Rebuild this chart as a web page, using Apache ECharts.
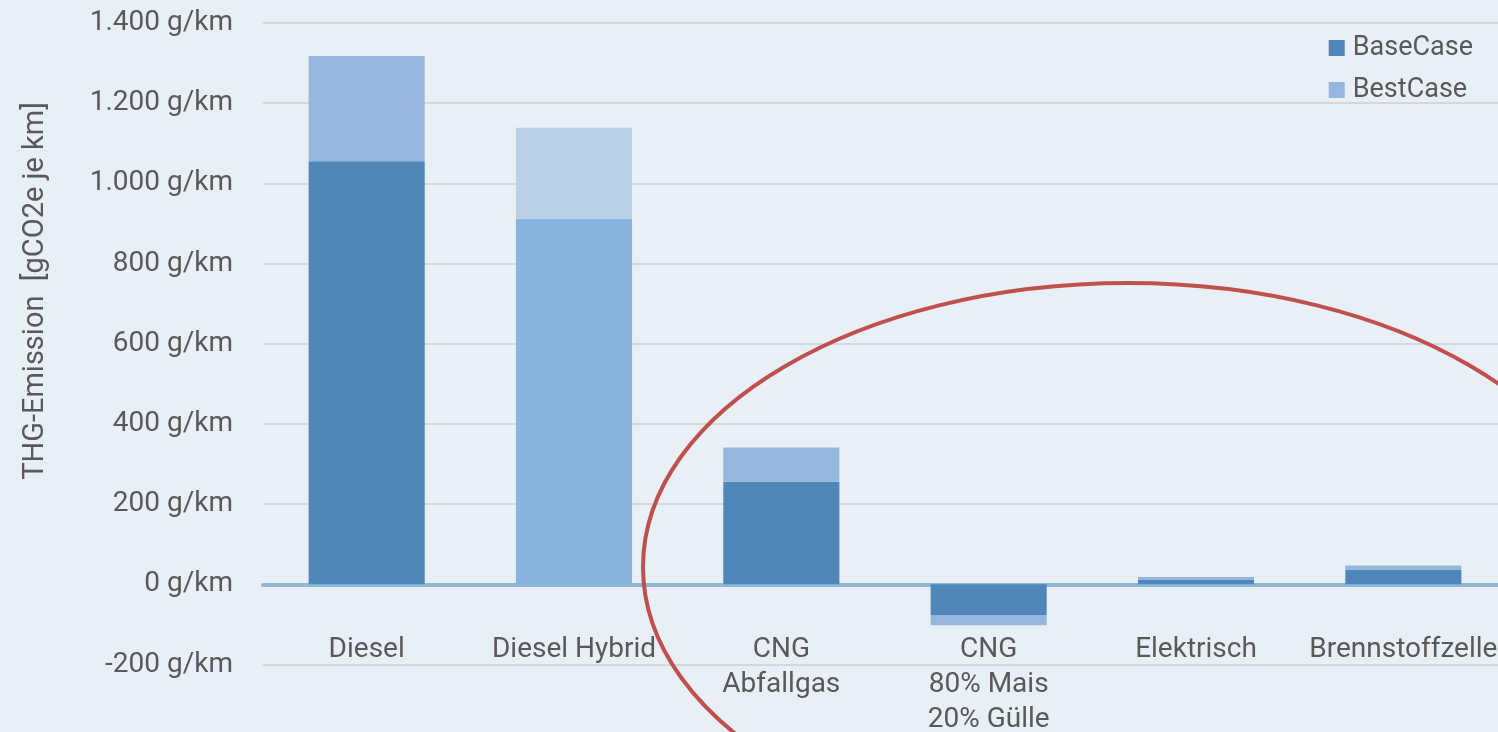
<!DOCTYPE html>
<html>
<head>
<meta charset="utf-8">
<script src="https://cdn.jsdelivr.net/npm/echarts@6/dist/echarts.min.js"></script>
<style>
html,body{margin:0;padding:0;background:#e8eff6;}
#chart{width:1498px;height:732px;}
</style>
</head>
<body>
<div id="chart"></div>
<script>
const categories = ['Diesel', 'Diesel Hybrid', 'CNG\nAbfallgas', 'CNG\n80% Mais\n20% Gülle', 'Elektrisch', 'Brennstoffzelle'];
const baseCase = [1055, 912, 256, -78, 12, 37];
const bestCase = [263, 227, 85, -24, 6, 10];
const seriesNames = ['BaseCase', 'BestCase'];
const yAxisTitle = 'THG-Emission  [gCO2e je km]';
const yMin = -200, yMax = 1400, yStep = 200;

const FONT = 'Roboto';
const TXT = '#595959';
const BASE_COLOR = '#4f87bb';
const BEST_COLOR = '#95b7dd';
const HYBRID_BASE = '#88b4de';
const HYBRID_BEST = '#bad0e5';
const hybridIndex = 1;

const chart = echarts.init(document.getElementById('chart'), null, {renderer: 'canvas'});
const option = {
  backgroundColor: '#e8eff6',
  animation: false,
  textStyle: {fontFamily: FONT},
  grid: {left: 263, top: 23, width: 1244, height: 641.5, containLabel: false, outerBoundsMode: 'none'},
  legend: {
    orient: 'vertical',
    right: 20,
    top: 27,
    itemWidth: 16,
    itemHeight: 16,
    itemGap: 10,
    icon: 'rect',
    data: seriesNames,
    textStyle: {fontFamily: FONT, fontSize: 27, color: TXT, lineHeight: 32, padding: [0, 0, 0, 3]}
  },
  xAxis: {
    type: 'category',
    data: categories,
    axisLine: {onZero: true, lineStyle: {color: '#8db7d6', width: 4}},
    axisTick: {show: false},
    axisLabel: {
      interval: 0,
      margin: -32,
      fontFamily: FONT,
      fontSize: 28,
      lineHeight: 35,
      color: TXT
    }
  },
  yAxis: {
    type: 'value',
    min: yMin,
    max: yMax,
    interval: yStep,
    axisLine: {show: false},
    axisTick: {show: false},
    splitLine: {lineStyle: {color: '#d8d8d8', width: 2}},
    axisLabel: {
      margin: 30,
      fontFamily: FONT,
      fontSize: 28,
      color: TXT,
      formatter: v => v.toLocaleString('de-DE') + ' g/km'
    }
  },
  series: [
    {
      name: seriesNames[0],
      type: 'bar',
      stack: 'total',
      barWidth: '56%',
      itemStyle: {color: BASE_COLOR},
      data: baseCase.map((v, i) => i === hybridIndex ? {value: v, itemStyle: {color: HYBRID_BASE}} : v)
    },
    {
      name: seriesNames[1],
      type: 'bar',
      stack: 'total',
      barWidth: '56%',
      itemStyle: {color: BEST_COLOR},
      data: bestCase.map((v, i) => i === hybridIndex ? {value: v, itemStyle: {color: HYBRID_BEST}} : v)
    }
  ],
  graphic: [
    {
      type: 'text',
      x: 36,
      y: 291,
      rotation: Math.PI / 2,
      style: {
        text: yAxisTitle,
        fontFamily: FONT,
        fontSize: 29,
        fill: TXT,
        align: 'center',
        verticalAlign: 'middle'
      }
    },
    {
      type: 'ellipse',
      z: 100,
      shape: {cx: 1128, cy: 567, rx: 485, ry: 284},
      style: {fill: null, stroke: '#c0504d', lineWidth: 4}
    }
  ]
};
chart.setOption(option);
</script>
</body>
</html>
